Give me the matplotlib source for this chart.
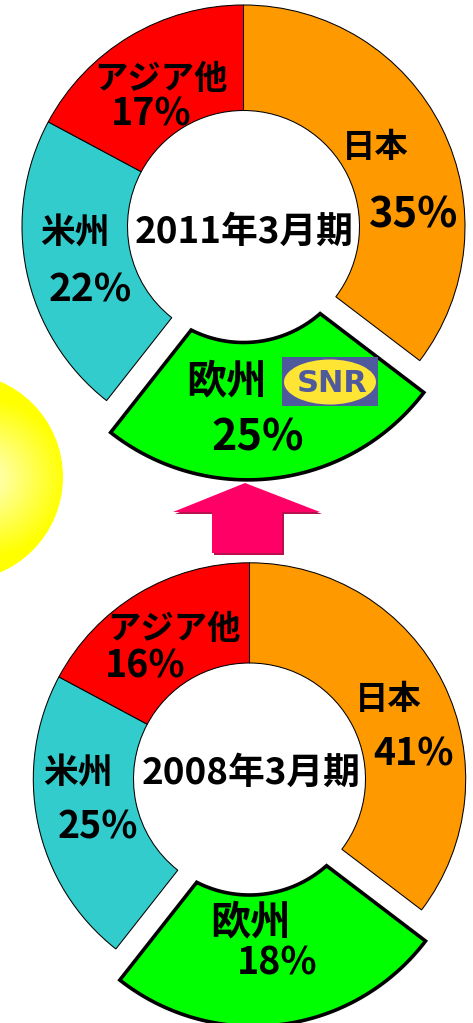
import numpy as np
import matplotlib
matplotlib.use("Agg")
import matplotlib.pyplot as plt
from matplotlib.patches import Polygon, Circle, Rectangle, Ellipse

plt.rcParams['font.family'] = ['Noto Sans CJK JP', 'DejaVu Sans']

regions = ['日本', '欧州', '米州', 'アジア他']
colors = ['#FF9900', '#00FF00', '#33CCCC', '#FF0000']
share_2011 = [35, 25, 22, 17]
share_2008 = [41, 18, 25, 16]
# the slide re-uses the 2011 ring shape for 2008: slice angles as drawn
ring_2008 = [35, 25, 22, 17]
periods = ['2011年3月期', '2008年3月期']

W, H = 473, 1023
fig = plt.figure(figsize=(W / 100, H / 100), dpi=100)
ax = fig.add_axes([0, 0, 1, 1])


def px(x, y):
	# picture pixels (y down) -> data coords (y up)
	return (x, H - y)


def draw_ring(sizes, cx, cy, R, r, shift):
	wedges, _ = ax.pie(sizes, colors=colors, startangle=90, counterclock=False,
					   radius=R, center=px(cx, cy),
					   wedgeprops=dict(width=R - r, edgecolor='black', linewidth=0.75))
	# europe slice is pulled out, hole stays where it was
	eu = wedges[1]
	eu.set_visible(False)
	t1, t2 = np.radians(eu.theta1), np.radians(eu.theta2)
	tm = (t1 + t2) / 2
	c = np.array(eu.center, dtype=float)
	s = shift * R * np.array([np.cos(tm), np.sin(tm)])
	c2 = c + s

	def inner(t):
		u = np.array([np.cos(t), np.sin(t)])
		b = s @ u
		k = -b + np.sqrt(b * b - s @ s + r * r)
		return c2 + k * u

	ts = np.linspace(t1, t2, 100)
	outer = c2 + R * np.column_stack([np.cos(ts), np.sin(ts)])
	p1, p2 = inner(t1), inner(t2)
	a1 = np.arctan2(p1[1] - c[1], p1[0] - c[0])
	a2 = np.arctan2(p2[1] - c[1], p2[0] - c[0])
	ia = np.linspace(a2, a1, 100)
	inner_arc = c + r * np.column_stack([np.cos(ia), np.sin(ia)])
	ax.add_patch(Polygon(np.vstack([outer, inner_arc]), closed=True, facecolor=colors[1],
						 edgecolor='black', linewidth=2.6, joinstyle='miter', zorder=3))


# yellow ball on the left edge
gx0, gx1, gy0, gy1 = -150, 70, H - 600, H - 360
xx, yy = np.meshgrid(np.linspace(gx0, gx1, 300), np.linspace(gy0, gy1, 300))
d = np.hypot(xx - (-15), yy - (H - 478))
img = np.ones((300, 300, 3))
img[..., 2] = np.clip(1 - d / 80, 0, 1) * 0.8
ball = Circle(px(-41, 477), 104, transform=ax.transData)
im = ax.imshow(img, extent=[gx0, gx1, gy0, gy1], origin='lower', zorder=0)
im.set_clip_path(ball)

draw_ring(share_2011, 243.5, 226.5, 221.5, 116, 0.145)
draw_ring(ring_2008, 249.5, 779, 216.2, 116, 0.145)

# pink arrow between the two rings
arrow = [(245, 483), (320, 512), (282, 512), (282, 553), (212, 553), (212, 512), (173, 512)]
ax.add_patch(Polygon([px(x + 2, y + 2) for x, y in arrow], closed=True,
					 facecolor='#B8104E', edgecolor='none', zorder=1))
ax.add_patch(Polygon([px(x, y) for x, y in arrow], closed=True,
					 facecolor='#FF0066', edgecolor='none', zorder=2))

# SNR logo
ax.add_patch(Rectangle(px(282, 406), 96, 49, facecolor='#4E5A9C', edgecolor='none', zorder=4))
ax.add_patch(Ellipse(px(330, 382), 92, 45, facecolor='#FFE533', edgecolor='none', zorder=5))
ax.text(*px(332, 383), 'SNR', family='DejaVu Sans', fontweight='heavy', fontsize=22,
		color='#4E5A9C', ha='center', va='center', zorder=6)

# labels: (x, y, size) in picture pixels
name_pos = [
	[(375, 147.5, 24), (226.7, 381.7, 29), (75, 232.5, 25), (160.8, 79, 24)],
	[(388, 700, 24), (250, 923, 29), (78, 772.5, 25), (174, 629, 24)],
]
pct_pos = [
	[(414, 215, 30), (257.5, 437.5, 31), (90, 290, 28), (150.8, 114, 27)],
	[(413, 754, 27), (277.5, 963, 27), (98, 826.7, 27), (145, 665.8, 27)],
]
center_pos = [(244.3, 232), (251, 773)]

for k, shares in enumerate([share_2011, share_2008]):
	for name, v, (nx, ny, ns), (qx, qy, qs) in zip(regions, shares, name_pos[k], pct_pos[k]):
		ax.text(*px(nx, ny), name, fontsize=ns, fontweight='bold', ha='center', va='center', zorder=7)
		ax.text(*px(qx, qy), f'{v}%', fontsize=qs, fontweight='bold', ha='center', va='center', zorder=7)
	ax.text(*px(*center_pos[k]), periods[k], fontsize=26.5, fontweight='bold',
			ha='center', va='center', zorder=7)

ax.set_xlim(0, W)
ax.set_ylim(0, H)
ax.set_aspect('auto')
ax.axis('off')

plt.savefig('out.png', dpi=100)
plt.close()
